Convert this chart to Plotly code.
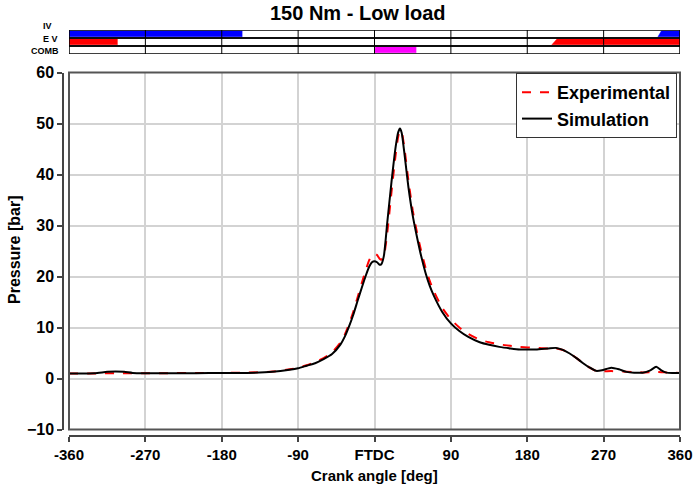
import plotly.graph_objects as go

# ---------------- data ----------------
sim_angle = [-360, -330, -315, -305, -295, -285, -270, -240, -210, -180, -150, -120, -100, -90, -80, -70,
             -60, -50, -40, -35, -30, -25, -20, -15, -10, -6, -3, 0, 3, 6, 8, 11, 15, 20, 25, 28, 30, 32,
             35, 40, 45, 50, 55, 60, 65, 70, 80, 90, 100, 110, 124, 135, 147, 160, 171, 190, 205, 214,
             222, 230, 238, 245, 253, 261, 268, 279, 288, 297, 306, 316, 325, 332, 338, 344, 352, 360]
sim_p = [1.0, 1.05, 1.3, 1.35, 1.3, 1.1, 1.05, 1.05, 1.05, 1.1, 1.1, 1.3, 1.7, 2.0, 2.5, 3.0,
         3.8, 4.8, 6.7, 8.2, 10.2, 12.5, 15.2, 17.8, 20.3, 22.0, 22.8, 23.0, 22.8, 22.3, 22.4, 24.0,
         30.5, 38.5, 45.5, 48.3, 49.0, 48.2, 44.5, 37.5, 32.0, 27.8, 24.0, 20.8, 18.2, 16.2, 13.0,
         10.8, 9.3, 8.2, 7.1, 6.6, 6.2, 5.9, 5.7, 5.7, 5.9, 6.0, 5.6, 4.9, 4.0, 3.1, 2.2, 1.5, 1.6,
         2.1, 1.8, 1.3, 1.15, 1.15, 1.6, 2.3, 1.6, 1.15, 1.1, 1.1]

exp_angle = [-360, -330, -300, -270, -240, -210, -180, -150, -120, -100, -90, -80, -70, -60, -50, -40,
             -35, -30, -25, -20, -15, -10, -6, -3, 0, 3, 6, 8, 11, 15, 20, 25, 28, 30, 32, 35, 40, 45,
             50, 55, 60, 65, 70, 80, 90, 100, 110, 124, 135, 147, 160, 171, 190, 205, 214, 222, 230,
             238, 245, 253, 261, 268, 279, 288, 297, 306, 316, 325, 332, 338, 344, 352, 360]
exp_p = [1.0, 1.0, 1.05, 1.05, 1.05, 1.1, 1.1, 1.15, 1.35, 1.8, 2.1, 2.6, 3.2, 4.0, 5.1, 7.1,
         8.6, 10.7, 13.1, 15.9, 18.7, 21.4, 23.3, 24.2, 24.5, 24.2, 23.5, 23.3, 24.0, 28.5, 36.5,
         44.0, 47.5, 48.6, 48.3, 45.5, 38.8, 33.0, 28.7, 25.0, 21.8, 19.2, 17.1, 13.8, 11.6, 10.0,
         8.8, 7.6, 7.1, 6.7, 6.4, 6.2, 6.0, 5.9, 5.9, 5.6, 4.9, 4.0, 3.1, 2.2, 1.5, 1.4, 1.45, 1.4,
         1.3, 1.25, 1.2, 1.25, 1.3, 1.25, 1.2, 1.15, 1.1]

x_tickvals = [-360, -270, -180, -90, 0, 90, 180, 270, 360]
x_ticktext = ["-360", "-270", "-180", "-90", "FTDC", "90", "180", "270", "360"]
y_tickvals = [-10, 0, 10, 20, 30, 40, 50, 60]

# valve / combustion event bars: (open, close, ramp)
iv_events = [(-360, -156, 0), (334, 360, 4)]
ev_events = [(-360, -303, 0), (209, 360, 6)]
comb_events = [(0, 49, 1)]
row_labels = ["IV", "E V", "COMB"]

FONT = "Liberation Sans, Arial, sans-serif"
W, H = 695, 488

fig = go.Figure()

fig.add_trace(go.Scatter(x=exp_angle, y=exp_p, mode="lines", name="Experimental",
                         line=dict(color="#ff0000", width=2, dash="dash", shape="spline", smoothing=0.6)))
fig.add_trace(go.Scatter(x=sim_angle, y=sim_p, mode="lines", name="Simulation",
                         line=dict(color="#000000", width=2, shape="spline", smoothing=0.6)))

# top event bars (rows: IV 2..3, EV 1..2, COMB 0..1)
def add_events(events, row, color):
    lo, hi = row + 0.15, row + 0.88
    for (a, b, r) in events:
        fig.add_trace(go.Scatter(x=[a, b, b, a + r, a], y=[lo, lo, hi, hi, lo],
                                 xaxis="x2", yaxis="y2", mode="lines", fill="toself",
                                 fillcolor=color, line=dict(color=color, width=0.5),
                                 showlegend=False, hoverinfo="skip"))

add_events(iv_events, 2, "#0000ff")
add_events(ev_events, 1, "#ff0000")
add_events(comb_events, 0, "#ff00ff")

shapes = []
for r in range(3):
    shapes.append(dict(type="rect", xref="x2", yref="y2", x0=-360, x1=360, y0=r, y1=r + 1,
                       line=dict(color="black", width=1.5), layer="above"))
for v in x_tickvals[1:-1]:
    shapes.append(dict(type="line", xref="x2", yref="y2", x0=v, x1=v, y0=0, y1=3,
                       line=dict(color="black", width=1), layer="above"))
# plot frame
shapes.append(dict(type="rect", xref="x domain", yref="y domain", x0=0, x1=1, y0=0, y1=1,
                   line=dict(color="#555555", width=2), layer="above"))

xd = [69 / W, 680 / W]
yd = [(H - 429.5) / H, (H - 72.5) / H]

annotations = [
    dict(text="<b>150 Nm - Low load</b>", x=358 / W, y=(H - 13) / H, xref="paper", yref="paper",
         xanchor="center", yanchor="middle", showarrow=False, font=dict(size=20, family=FONT, color="black")),
    dict(text="<b>Crank angle [deg]</b>", x=374.5 / W, y=(H - 475) / H, xref="paper", yref="paper",
         xanchor="center", yanchor="middle", showarrow=False, font=dict(size=15, family=FONT, color="black")),
    dict(text="<b>Pressure [bar]</b>", x=14 / W, y=(H - 250) / H, xref="paper", yref="paper",
         xanchor="center", yanchor="middle", showarrow=False, textangle=-90,
         font=dict(size=16, family=FONT, color="black")),
]
label_pos = [(53.5, 25.5), (60, 39), (61, 51.3)]
for lab, (lx, ly) in zip(row_labels, label_pos):
    annotations.append(dict(text="<b>" + lab + "</b>", x=lx / W, y=(H - ly) / H, xref="paper", yref="paper",
                            xanchor="right", yanchor="middle", showarrow=False,
                            font=dict(size=9, family=FONT, color="black")))

fig.update_layout(
    width=W, height=H, margin=dict(l=0, r=0, t=0, b=0, autoexpand=False),
    paper_bgcolor="white", plot_bgcolor="white",
    font=dict(family=FONT, color="black"),
    xaxis=dict(domain=xd, range=[-360, 360], anchor="free", position=(H - 436) / H, automargin=False,
               tickvals=x_tickvals, ticktext=x_ticktext, showgrid=True, gridcolor="#d3d3d3", gridwidth=1.5,
               zeroline=False, showline=True, linecolor="#444444", linewidth=1.5,
               ticks="outside", ticklen=5, tickwidth=1.5, tickcolor="#444444",
               tickfont=dict(size=15, family=FONT, weight="bold", color="black")),
    yaxis=dict(domain=yd, range=[-10, 60], anchor="free", position=63 / W, automargin=False,
               tickvals=y_tickvals, showgrid=True, gridcolor="#d3d3d3", gridwidth=1.5,
               zeroline=False, showline=True, linecolor="#444444", linewidth=1.5,
               ticks="outside", ticklen=5, tickwidth=1.5, tickcolor="#444444",
               tickfont=dict(size=16, family=FONT, weight="bold", color="black")),
    xaxis2=dict(domain=xd, range=[-360, 360], anchor="y2", visible=False, automargin=False),
    yaxis2=dict(domain=[(H - 54) / H, (H - 30) / H], range=[0, 3], anchor="x2", visible=False,
                automargin=False),
    legend=dict(x=677 / W, y=(H - 73) / H, xanchor="right", yanchor="top", bgcolor="white",
                bordercolor="#333333", borderwidth=1, itemwidth=30, tracegroupgap=0,
                font=dict(size=18, family=FONT, weight="bold", color="black")),
    shapes=shapes, annotations=annotations,
)

fig.write_html("out.html")
